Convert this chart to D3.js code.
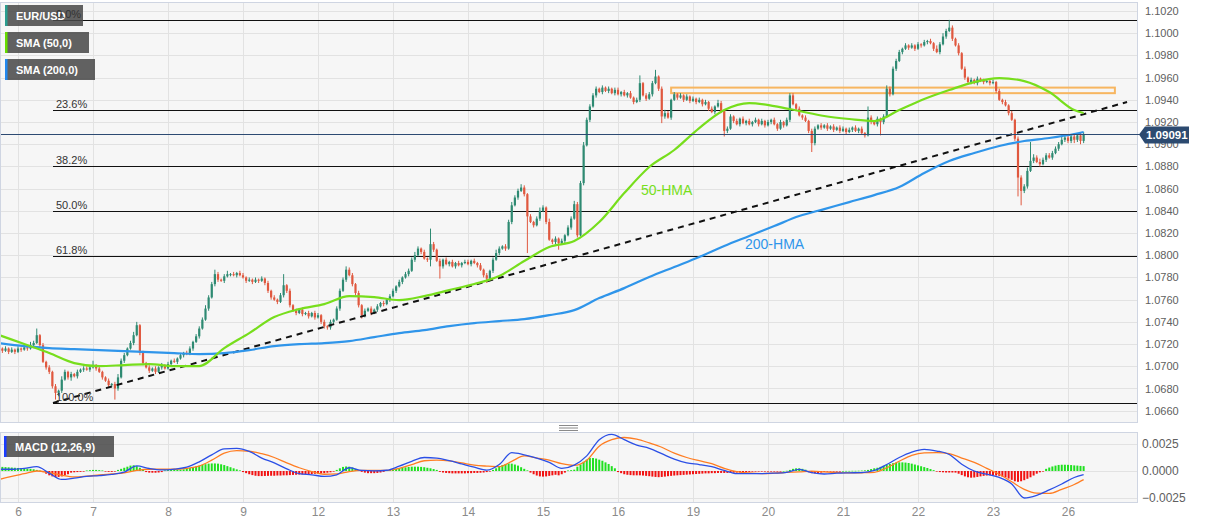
<!DOCTYPE html>
<html><head><meta charset="utf-8">
<script src="https://cdn.jsdelivr.net/npm/d3@7"></script>
<style>
html,body{margin:0;padding:0;background:#fff;}
svg{display:block;font-family:"Liberation Sans",Arial,sans-serif;}
</style></head><body>
<svg id="c" width="1207" height="526"></svg>
<script>
// ---------------- DATA ----------------
const dayLabels = ["6","7","8","9","12","13","14","15","16","19","20","21","22","23","26"];
const dayStartIdx = [6,30,54,78,102,126,150,174,198,222,246,270,294,318,342];
const priceTicks = [1.1020,1.1000,1.0980,1.0960,1.0940,1.0920,1.0900,1.0880,1.0860,1.0840,1.0820,1.0800,1.0780,1.0760,1.0740,1.0720,1.0700,1.0680,1.0660];
const macdTicks = [0.0025,0.0000,-0.0025];
// hourly closes, pips above 1.0000 (1.0716 -> 716)
const closes = [
716,714,716,713,715,713,
716,715,717,716,719,721,728,719,704,699,695,682,676,678,688,695,690,693,691,695,697,698,697,699,
701,698,695,690,687,683,684,680,690,705,710,716,721,728,737,712,703,699,696,698,695,699,701,698,
702,705,704,707,710,712,711,716,722,727,734,742,752,762,774,783,778,777,781,783,783,782,784,782,
780,777,778,776,778,777,779,775,768,762,760,758,764,773,768,755,750,748,751,747,748,745,748,744,
746,740,736,735,740,742,752,768,778,787,782,774,766,755,746,750,752,748,751,754,757,756,760,763,
768,772,776,780,783,786,796,800,806,803,797,796,810,805,795,790,796,792,794,790,793,791,793,794,
792,795,793,791,787,782,779,786,796,802,806,808,806,830,845,852,858,861,855,835,830,827,833,840,
843,830,814,812,815,811,813,818,825,833,846,818,865,899,922,934,944,950,947,951,948,950,946,949,
945,947,944,946,942,938,940,955,944,941,945,955,961,950,925,928,924,940,945,942,944,940,943,939,
941,938,940,936,938,932,929,934,937,930,912,914,925,921,918,923,919,921,918,920,922,918,921,917,
920,922,918,914,920,917,922,944,936,932,926,924,921,912,901,914,917,915,917,914,916,913,915,912,
914,911,913,915,912,914,910,908,924,920,918,923,920,925,950,945,968,975,983,986,989,987,989,986,
990,989,992,993,991,986,983,990,997,1002,1005,995,989,982,968,960,956,958,955,959,957,956,957,955,
956,948,940,938,935,928,922,905,870,858,862,876,885,888,884,882,886,890,888,892,896,900,904,906,
903,907,904,908,903,909.1
];
const firstOpen = 717;
// upper / lower wick lengths in pips
const wickUp = [
2,1,2,1,2,1,
2,1,2,1,3,2,6,1,2,1,2,1,2,1,3,2,1,2,1,2,1,2,2,1,
4,1,2,1,1,2,1,2,3,2,2,1,2,3,3,1,2,1,2,1,2,1,2,1,
2,1,2,1,2,1,2,2,1,2,2,2,3,2,2,4,2,1,2,3,1,2,1,2,
2,1,2,1,2,1,2,1,2,1,2,1,2,10,1,2,1,2,1,2,1,2,1,2,
2,1,2,1,2,1,2,2,2,3,2,2,1,2,1,2,1,2,1,2,1,2,1,2,
2,1,2,1,2,2,2,3,2,1,2,1,14,2,1,2,1,2,1,2,1,2,1,2,
2,1,2,1,2,1,2,1,2,3,2,1,2,2,3,2,2,3,2,1,2,1,2,3,
2,1,3,1,2,1,2,1,2,2,3,2,2,3,2,2,2,2,1,2,1,2,1,2,
2,1,2,1,2,1,2,7,1,2,2,2,6,1,2,3,2,1,2,1,2,1,2,1,
2,1,2,1,2,1,2,1,3,2,1,2,2,1,2,1,2,1,2,1,2,1,2,1,
2,1,2,1,2,1,2,2,2,1,2,1,2,1,2,2,1,2,1,2,1,2,1,2,
2,1,2,1,2,1,2,1,10,2,1,2,1,2,3,2,2,2,2,1,2,1,2,1,
2,1,2,1,2,1,3,2,3,2,7,2,1,2,1,2,1,2,1,2,1,2,1,2,
2,1,2,1,2,1,2,1,2,2,2,3,17,3,2,3,2,2,2,2,2,2,3,2,
2,2,3,2,3,2
];
const wickDn = [
1,2,1,2,1,2,
1,2,1,2,1,2,1,2,1,2,2,2,6,3,2,1,2,3,1,2,1,2,1,2,
1,2,1,2,1,2,2,10,2,1,2,1,1,2,1,2,2,1,2,1,2,1,2,1,
1,2,1,2,1,2,1,1,2,1,2,1,1,2,1,2,2,1,2,1,2,1,2,1,
1,2,1,2,1,2,1,2,2,2,1,2,1,2,2,2,1,2,1,2,1,2,1,2,
1,2,2,2,2,2,1,2,1,2,1,2,2,2,3,2,1,2,1,2,1,2,1,2,
1,2,1,2,1,2,1,2,1,2,1,2,6,2,1,11,2,1,2,1,2,1,2,1,
1,2,1,2,1,2,4,1,2,1,2,1,2,1,2,1,2,1,2,33,1,2,1,2,
1,2,1,2,2,6,1,2,1,2,1,2,1,2,1,2,1,2,1,2,1,2,1,2,
1,2,1,2,1,2,1,2,1,2,1,2,1,2,6,2,1,2,1,2,1,2,1,2,
1,2,1,2,1,2,1,2,1,2,5,2,1,2,1,2,1,2,1,2,1,2,1,2,
1,2,1,2,1,2,1,2,1,2,1,2,1,2,8,2,1,2,1,2,1,2,1,2,
1,2,1,2,1,2,1,2,1,2,1,2,12,2,1,2,1,2,1,2,1,2,1,2,
1,2,1,2,1,2,1,2,1,2,1,2,1,2,1,2,1,2,1,2,1,2,1,2,
1,2,1,2,1,2,1,2,17,13,2,2,1,2,1,2,1,2,1,2,1,2,1,2,
2,2,3,2,3,2
];
// 50-HMA and 200-HMA, pips, read every 8 candles (last at final candle)
const hma50 = [728.1,720.0,711.9,702.9,700.2,701.1,702.0,700.2,700.2,716.4,729.9,744.3,751.5,756.0,763.2,762.3,759.6,763.2,768.6,774.1,781.3,794.8,807.4,812.8,829.9,856.0,879.5,894.8,914.6,930.8,937.1,934.4,929.9,925.4,922.7,920.9,930.8,940.7,948.8,956.0,959.6,956.9,947.0,930.8,928.1];
const hma200 = [720.9,718.2,716.4,715.5,714.6,713.7,712.8,711.9,711.0,711.9,714.6,718.2,720.0,720.9,722.7,726.3,729.9,732.6,736.2,738.9,740.7,742.5,746.1,750.6,761.4,770.4,780.4,789.4,798.4,808.3,817.3,826.3,835.3,841.6,847.9,854.2,861.4,874.1,884.9,892.1,898.4,902.9,905.6,909.2,911.0];
// MACD & signal (x 1e-4), read every 4 candles (last at final candle)
const macdLine = [1.6,1.6,2.5,4,-2,-7.8,-6.6,-5,-4.3,-3.2,-1,4.8,2.3,1,1.8,3.5,8.5,15,20.5,21,18.2,12,7.5,2,-2.5,-3.5,-5,-3.5,3,0.5,0.2,0.7,4.5,9,12.5,12,9.5,6.5,3.5,0.8,6,17,15,12,8,2.5,5.5,14,29,34,29,24,21,16,11,7.5,6,4,0.5,-2.4,-2.5,-2.4,-2,-1.2,1.5,-1.5,-2.8,-2,-1.7,-1.5,0.5,6,12.5,17.5,20,18.5,15.3,6.3,0,-3,-6,-12,-25,-22.5,-17.5,-12,-6,-3.3];
const signalLine = [-7.8,-5,-2.5,0,-1.5,-4,-5.5,-4.8,-3.7,-2.7,-1.7,0.5,1.6,1.6,1.6,2.5,4.6,10,16.5,18.8,18.3,16,12.5,7.5,3,-0.5,-3,-2.7,-0.5,0.6,0.6,0.6,2.5,6,9.5,10,9.4,7.5,5.4,4.5,4,9,14,12,10,6.8,5.2,10,23,29,31,29.5,26,22,16.5,12.5,9.5,6.8,2.5,-0.5,-1.8,-2.4,-2,-1.3,-0.8,-0.2,-0.8,-1.4,-1.8,-1.6,-1.2,3,9,14.5,16.8,17,16,12,8,2.5,-3,-10,-17,-20.5,-20.8,-17,-12.5,-8];
// MACD histogram per candle (x 1e-5)
const histogram = [
40,38,36,34,32,30,28,26,24,22,20,16, 10,4,
-10,-25,-40,-50,-56,-55,-50,-40,-30, -15,-12,-10,-8,-6,
5,8,10,10,8,5, -5,-8,-8,-5, 10,20,30,40,50,53,45, 30,10,
-10,-15,-16,-16,-14,-10, 5,8,10,10,12,12,15,
20,28,35,42,50,57,63,68,70,70,68,62,55,45,35,25,15,6,
-10,-20,-30,-38,-44,-47,-47,-46,-45,-44,-44,-42,-42,-40,-40,-38,-36,-35,-33,-32,-30,-30,-28,-26,-24,-22,-20,-16,-12,-6,
10,25,38,42,40,32,20,8, -8,-15,-20,-20,-20,-18,-14,-8,
5,10,15,20,25,30,34,37,40,40,40,38,35,30,25,18,10,
-8,-14,-18,-20,-22,-22,-22,-22,-22,-20,-20,-18,-18,-16,-14,-10,-5,
10,25,40,55,65,70,68,60,50,35,20,6,
-15,-30,-42,-50,-52,-50,-45,-40,-35,-40, -30,-15,5,8,12,
40,60,85,105,120,120,115,105,95,80,65,45,25,
-10,-20,-30,-35,-38,-40,-40,-40,-42,-45,-48,-52,-55,-57,-55,-52,-48,-45,-42,-40,-38,-36,-34,-32,-30,-28,-26,-24,-22,-22,-20,-20,-18,
-18,-18,-18,-16,-16,-15,-14,-12,-10,-8,-6,
-4,-3,-3,-2,-2,-2,-2,-1,-1,0,2,
10,20,25,25,20,12, -12,-20,-22,-20,-15,-8,
-3,-2,-2,-1,-1,0,1,1,2,2,3,4,6,
10,18,25,30,38,48,58,65,72,78,80,80,78,74,68,60,52,44,36,28,18,8,
-5,-10,-12,-14,-14,-14,
-15,-25,-38,-50,-58,-62,-60,-55,-50,-45,-42,-40,-40,-42,-45,-52,-60,-70,-82,-95,-100,-95,-85,-72,-58,-42,-25,-12,-4,
20,32,42,50,56,58,58,57,55,52,50,47,45
];
const fibLabels = ["0.0%","23.6%","38.2%","50.0%","61.8%","100.0%"];
const fibValues = [1.1012,1.0931,1.0880,1.08395,1.0799,1.0667];
const fibStartIdx = 17.2;
const trendIdx = [17.2, 360.9];
const trendPrice = [1.0667, 1.0938];
const zoneIdx = [215, 357];
const zonePrice = [1.0946, 1.0951];
const lastPrice = 1.09091;

// ---------------- CHART ----------------
const svg = d3.select("#c");
const PR = 1137; // plot right edge
const x = d3.scaleLinear().domain([0, 347]).range([-0.75, 1083.625]);
const y = d3.scaleLinear().domain([1.0660, 1.1020]).range([410.7, 11]);
const ym = d3.scaleLinear().domain([-0.0025, 0.0025]).range([498, 444]);
const P = p => 1 + p / 10000;

const defs = svg.append("defs");
defs.append("clipPath").attr("id","cm").append("rect").attr("x",1).attr("y",3).attr("width",PR-1).attr("height",419);
defs.append("clipPath").attr("id","cd").append("rect").attr("x",1).attr("y",433).attr("width",PR-1).attr("height",69);

// panel backgrounds
svg.append("rect").attr("x",0.5).attr("y",2.5).attr("width",PR).attr("height",420)
  .attr("fill","#f6f6f6").attr("stroke","#cfd5e2");
svg.append("rect").attr("x",0.5).attr("y",432.5).attr("width",PR).attr("height",70)
  .attr("fill","#f6f6f6").attr("stroke","#cfd5e2");

const grid = svg.append("g").attr("stroke","#e2e2e2").attr("stroke-width",1);
priceTicks.forEach(t => grid.append("line").attr("x1",1).attr("x2",PR).attr("y1",Math.round(y(t))+0.5).attr("y2",Math.round(y(t))+0.5));
macdTicks.forEach(t => grid.append("line").attr("x1",1).attr("x2",PR).attr("y1",Math.round(ym(t))+0.5).attr("y2",Math.round(ym(t))+0.5));
dayStartIdx.forEach(d => {
  const xx = Math.round(x(d)) + 0.5;
  grid.append("line").attr("x1",xx).attr("x2",xx).attr("y1",3).attr("y2",422);
  grid.append("line").attr("x1",xx).attr("x2",xx).attr("y1",433).attr("y2",502);
});

const main = svg.append("g").attr("clip-path","url(#cm)");

// fib levels (lines)
fibValues.forEach((v,k) => {
  const yy = Math.round(y(v)) + 0.5;
  main.append("line").attr("x1",x(fibStartIdx)).attr("x2",PR).attr("y1",yy).attr("y2",yy)
    .attr("stroke","#111").attr("stroke-width",1);
});

// resistance zone
main.append("rect").attr("x",x(zoneIdx[0])).attr("y",y(zonePrice[1]))
  .attr("width",x(zoneIdx[1])-x(zoneIdx[0])).attr("height",y(zonePrice[0])-y(zonePrice[1]))
  .attr("fill","none").attr("stroke","#f7b660").attr("stroke-width",2);

// current price line
const yLast = Math.round(y(lastPrice)) + 0.5;
svg.append("line").attr("x1",1).attr("x2",1140).attr("y1",yLast).attr("y2",yLast).attr("stroke","#2d4a72").attr("stroke-width",1);

// candles
const candles = closes.map((c,i) => {
  const o = i === 0 ? firstOpen : closes[i-1];
  return {i, o, c, h: Math.max(o,c) + wickUp[i], l: Math.min(o,c) - wickDn[i]};
});
const cg = main.append("g");
candles.forEach(d => {
  const col = d.c >= d.o ? "#2e8a72" : "#e0583f";
  const cx = x(d.i);
  cg.append("line").attr("x1",cx).attr("x2",cx).attr("y1",y(P(d.h))).attr("y2",y(P(d.l))).attr("stroke",col).attr("stroke-width",1);
  const top = y(P(Math.max(d.o,d.c))), bot = y(P(Math.min(d.o,d.c)));
  cg.append("rect").attr("x",cx-1.1).attr("width",2.2).attr("y",top).attr("height",Math.max(1,bot-top)).attr("fill",col);
});

// trendline
main.append("line").attr("x1",x(trendIdx[0])).attr("y1",y(trendPrice[0])).attr("x2",x(trendIdx[1])).attr("y2",y(trendPrice[1]))
  .attr("stroke","#111").attr("stroke-width",2).attr("stroke-dasharray","6,5");

// HMA lines
const idx8 = k => Math.min(k*8, 347);
const hmaLine = d3.line().x((d,k)=>x(idx8(k))).y(d=>y(P(d))).curve(d3.curveMonotoneX);
main.append("path").attr("d",hmaLine(hma200)).attr("fill","none").attr("stroke","#2f95ea").attr("stroke-width",2.2);
main.append("path").attr("d",hmaLine(hma50)).attr("fill","none").attr("stroke","#77de1c").attr("stroke-width",2.2);

main.append("text").attr("x",641).attr("y",195).attr("font-size",14).attr("fill","#77de1c").text("50-HMA");
main.append("text").attr("x",745).attr("y",249).attr("font-size",14).attr("fill","#2f95ea").text("200-HMA");

// MACD panel
const mg = svg.append("g").attr("clip-path","url(#cd)");
histogram.forEach((v,i) => {
  const val = v * 1e-5;
  const y0 = ym(0), y1 = ym(val);
  mg.append("rect").attr("x",x(i)-1).attr("width",2).attr("y",Math.min(y0,y1)).attr("height",Math.max(0.6,Math.abs(y1-y0)))
    .attr("fill", v >= 0 ? "#1fe01f" : "#f21212");
});
const idx4 = k => Math.min(k*4, 347);
const mLine = d3.line().x((d,k)=>x(idx4(k))).y(d=>ym(d*1e-4)).curve(d3.curveMonotoneX);
mg.append("path").attr("d",mLine(signalLine)).attr("fill","none").attr("stroke","#ff7d22").attr("stroke-width",1.3);
mg.append("path").attr("d",mLine(macdLine)).attr("fill","none").attr("stroke","#2b4fe6").attr("stroke-width",1.3);

// right axes
const ax = svg.append("g").attr("transform",`translate(${PR},0)`)
  .call(d3.axisRight(y).tickValues(priceTicks).tickFormat(d3.format(".4f")).tickSize(0).tickPadding(8));
ax.select(".domain").remove();
ax.selectAll("text").attr("font-size",11).attr("fill","#606060").attr("font-family","'Liberation Sans',Arial,sans-serif");

const axm = svg.append("g").attr("transform",`translate(${PR},0)`)
  .call(d3.axisRight(ym).tickValues(macdTicks).tickFormat(d3.format(".4f")).tickSize(0).tickPadding(5));
axm.select(".domain").remove();
axm.selectAll("text").attr("font-size",12).attr("fill","#606060").attr("font-family","'Liberation Sans',Arial,sans-serif");

// bottom axis
const axb = svg.append("g").attr("transform","translate(0,503)")
  .call(d3.axisBottom(x).tickValues(dayStartIdx).tickFormat((d,k)=>dayLabels[k]).tickSize(0).tickPadding(4));
axb.select(".domain").remove();
axb.selectAll("text").attr("font-size",12).attr("fill","#8a8a8a").attr("font-family","'Liberation Sans',Arial,sans-serif");

// last price tag
svg.append("path").attr("d",`M1139,${yLast} L1145,${yLast-8} L1189,${yLast-8} L1189,${yLast+9} L1145,${yLast+9} Z`).attr("fill","#2c4a70");
svg.append("text").attr("x",1146).attr("y",yLast+4.5).attr("font-size",11.5).attr("font-weight","bold").attr("fill","#fff").text(lastPrice.toFixed(5));

// panel handle
[425.5,428,430.5].forEach(yy => svg.append("line").attr("x1",559).attr("x2",578).attr("y1",yy).attr("y2",yy).attr("stroke","#8a8a8a").attr("stroke-width",1));

// legends
function legend(x0,y0,w,label,col){
  svg.append("rect").attr("x",x0).attr("y",y0).attr("width",w).attr("height",21).attr("fill","rgba(72,72,72,0.86)");
  svg.append("rect").attr("x",x0).attr("y",y0).attr("width",2.5).attr("height",21).attr("fill",col);
  svg.append("text").attr("x",x0+11).attr("y",y0+15).attr("font-size",11).attr("font-weight","bold").attr("fill","#fff").text(label);
}
legend(5,5,78,"EUR/USD","#2a9d8f");
legend(5,32,84,"SMA (50,0)","#66dd00");
legend(5,59,90,"SMA (200,0)","#2288ee");
legend(4,436,110,"MACD (12,26,9)","#1a3cff");

// fib labels drawn on top (as in the reference)
const fl = svg.append("g").attr("clip-path","url(#cm)");
fibValues.forEach((v,k) => {
  const yy = Math.round(y(v)) + 0.5;
  fl.append("text").attr("x",56).attr("y",yy-3).attr("font-size",11).attr("fill","#333").text(fibLabels[k]);
});
</script>
</body></html>
